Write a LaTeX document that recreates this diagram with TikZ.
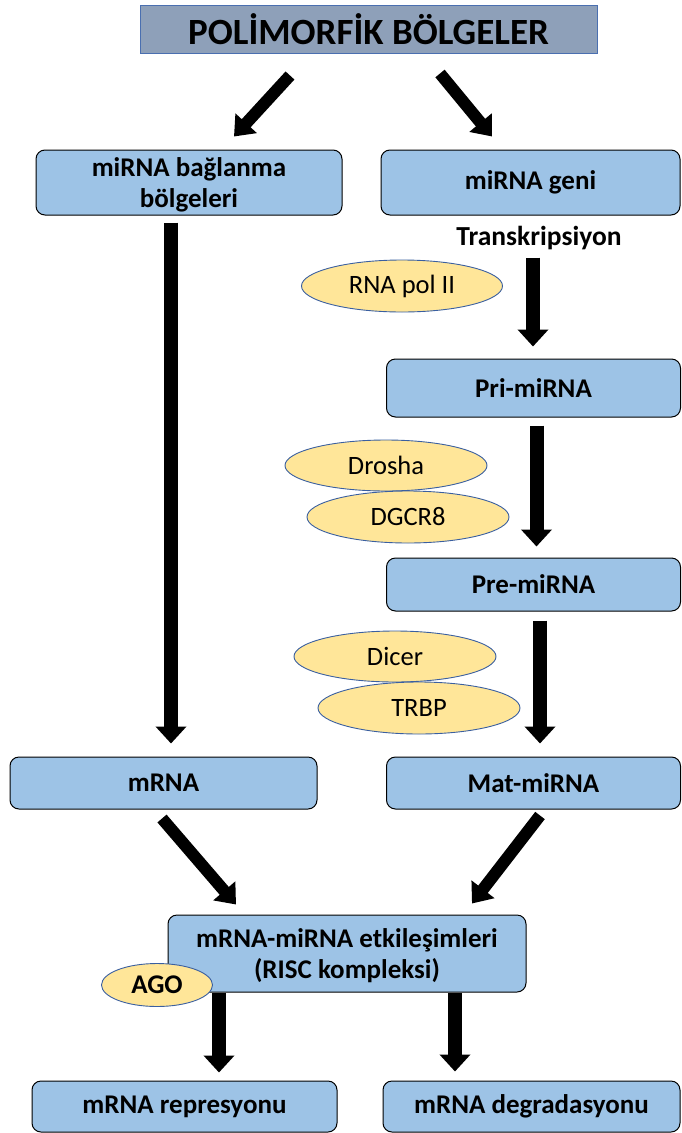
\documentclass[tikz,border=0pt]{standalone}
\usepackage{fontspec}
\setmainfont{Carlito}
\usetikzlibrary{arrows.meta,shapes.geometric}
\definecolor{boxblue}{HTML}{9DC3E6}
\definecolor{titlefill}{HTML}{8EA0B9}
\definecolor{titleline}{HTML}{4A6FB0}
\definecolor{ellfill}{HTML}{FFE699}
\definecolor{ellline}{HTML}{3A5FA0}
\newcommand{\twolines}[2]{\raisebox{-3.5pt}[\height][\depth]{\begin{tabular}{@{}c@{}}#1\\#2\end{tabular}}}
\tikzset{
  box/.style={draw=black, line width=1pt, fill=boxblue, rounded corners=9pt, inner sep=0pt,
    align=center, font=\bfseries\fontsize{27}{31}\selectfont},
  enz/.style={ellipse, draw=ellline, line width=0.9pt, fill=ellfill, inner sep=0pt,
    font=\fontsize{26.5}{30}\selectfont},
  bigarrow/.style={line width=14pt, -{Triangle[width=30pt,length=17pt]}},
  diagarrow/.style={line width=12pt, -{Triangle[width=28pt,length=18pt]}}
}
\begin{document}
\begin{tikzpicture}[x=1pt,y=-1pt]
\useasboundingbox (0,0) rectangle (681,1133);
% title
\node[draw=titleline, line width=1pt, fill=titlefill, minimum width=457pt, minimum height=48pt,
  font=\bfseries\fontsize{37}{42}\selectfont] (title) at (368.5,29) {POLİMORFİK BÖLGELER};
% boxes
\node[box, minimum width=306pt, minimum height=65pt] (lb) at (189,182.5) {\twolines{miRNA bağlanma}{bölgeleri}};
\node[box, minimum width=299pt, minimum height=65pt] (gene) at (530.5,182.5) {miRNA geni};
\node[font=\bfseries\fontsize{27.5}{31}\selectfont] (trans) at (539,238) {Transkripsiyon};
\node[box, minimum width=294pt, minimum height=58pt] (pri) at (533.5,388) {Pri-miRNA};
\node[box, minimum width=294pt, minimum height=53pt] (pre) at (533.5,584.5) {Pre-miRNA};
\node[box, minimum width=294pt, minimum height=52pt] (mat) at (533.5,783) {Mat-miRNA};
\node[box, minimum width=307pt, minimum height=52pt] (mrna) at (163.5,783) {mRNA};
\node[box, minimum width=358pt, minimum height=77pt] (risc) at (347,953.5) {\twolines{mRNA-miRNA etkileşimleri}{(RISC kompleksi)}};
\node[box, minimum width=305pt, minimum height=51pt] (rep) at (184.5,1106.5) {mRNA represyonu};
\node[box, minimum width=297pt, minimum height=51pt] (deg) at (531.5,1106.5) {mRNA degradasyonu};
% enzymes
\node[enz, minimum width=201pt, minimum height=52pt] (pol) at (402,286) {RNA pol II};
\node[enz, minimum width=202pt, minimum height=51pt] (drosha) at (386,465.5) {Drosha};
\node[enz, minimum width=202pt, minimum height=52pt] (dgcr) at (408,517) {DGCR8};
\node[enz, minimum width=202pt, minimum height=51pt] (dicer) at (395,656.5) {Dicer};
\node[enz, minimum width=202pt, minimum height=52pt] (trbp) at (419,708) {TRBP};
% arrows
\draw[diagarrow] ([xshift=-78.5pt,yshift=-22pt]title.south) -- ([xshift=45pt,yshift=13pt]lb.north);
\draw[diagarrow] ([xshift=71.5pt,yshift=-20pt]title.south) -- ([xshift=-38.5pt,yshift=13pt]gene.north);
\draw[bigarrow] ([xshift=-18pt,yshift=-7pt]lb.south) -- ([xshift=7.5pt,yshift=13pt]mrna.north);
\draw[bigarrow] ([xshift=2.5pt,yshift=-42pt]gene.south) -- ([xshift=-0.5pt,yshift=12pt]pri.north);
\draw[bigarrow] ([xshift=3pt,yshift=-8pt]pri.south) -- ([xshift=3pt,yshift=11pt]pre.north);
\draw[bigarrow] ([xshift=6.5pt,yshift=-9pt]pre.south) -- ([xshift=6.5pt,yshift=13pt]mat.north);
\draw[diagarrow] ([xshift=-1.5pt,yshift=-9pt]mrna.south) -- ([xshift=-111pt,yshift=10pt]risc.north);
\draw[diagarrow] ([xshift=6.5pt,yshift=-6pt]mat.south) -- ([xshift=125pt,yshift=11pt]risc.north);
\draw[bigarrow] ([xshift=-128pt]risc.south) -- ([xshift=34.5pt,yshift=8pt]rep.north);
\draw[bigarrow] ([xshift=108pt]risc.south) -- ([xshift=-76.5pt,yshift=9pt]deg.north);
\node[enz, minimum width=111pt, minimum height=43pt, font=\bfseries\fontsize{27}{30}\selectfont] (ago) at (157,985) {AGO};
\end{tikzpicture}
\end{document}
